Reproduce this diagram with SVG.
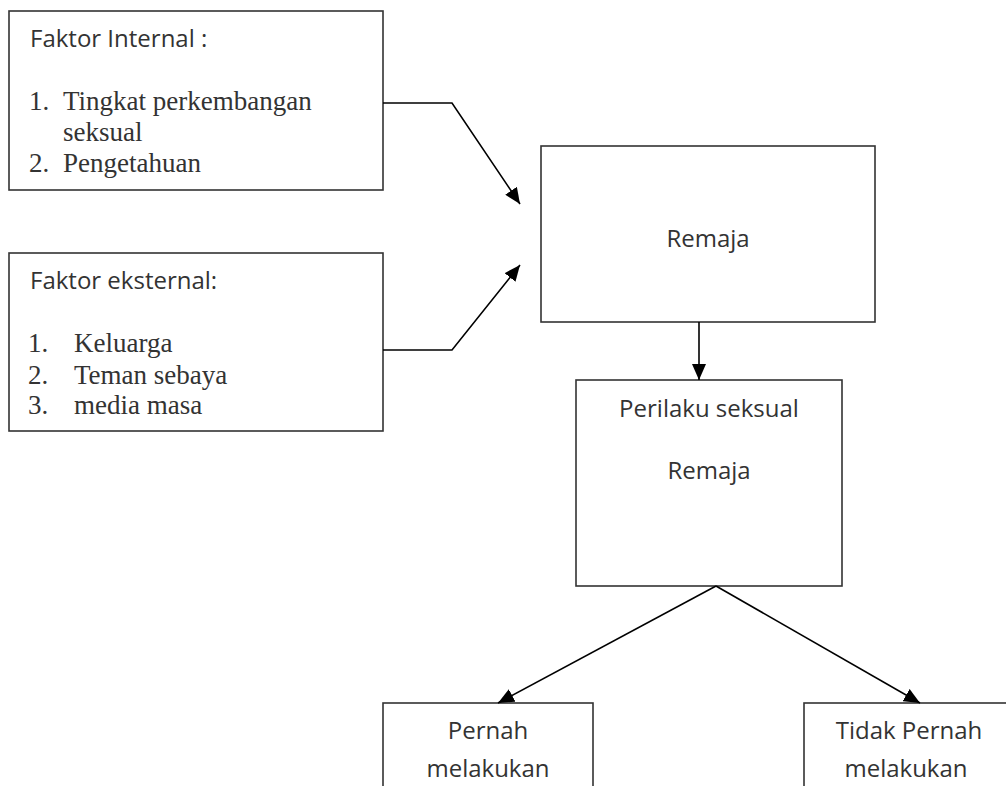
<svg xmlns="http://www.w3.org/2000/svg" width="1006" height="786" viewBox="0 0 1006 786">
<style>
.box{fill:#fff;stroke:#333;stroke-width:1.6}
.sans{font-family:"Open Sans","Noto Sans",sans-serif;font-size:24px;fill:#333}
.serif{font-family:"Liberation Serif","Times New Roman",serif;font-size:27px;fill:#333}
.mid{text-anchor:middle}
.conn{fill:none;stroke:#000;stroke-width:1.6}
</style>
<defs>
<marker id="arr" viewBox="0 0 10 10" refX="10" refY="5" markerWidth="10" markerHeight="10" markerUnits="userSpaceOnUse" orient="auto">
<path d="M0,0 L10,5 L0,10 z" fill="#000"/>
</marker>
<marker id="arrL" viewBox="0 0 16 14" refX="16" refY="7" markerWidth="16" markerHeight="14" markerUnits="userSpaceOnUse" orient="auto">
<path d="M0,0 L16,7 L0,14 z" fill="#000"/>
</marker>
</defs>
<rect width="1006" height="786" fill="#fff"/>
<g id="internal">
<rect class="box" x="9" y="11" width="374" height="179"/>
<text class="sans" x="30" y="47">Faktor Internal :</text>
<text class="serif" x="29" y="110">1.</text>
<text class="serif" x="63" y="110">Tingkat perkembangan</text>
<text class="serif" x="63" y="141">seksual</text>
<text class="serif" x="29" y="172">2.</text>
<text class="serif" x="63" y="172">Pengetahuan</text>
</g>
<g id="eksternal">
<rect class="box" x="9" y="253" width="374" height="178"/>
<text class="sans" x="30" y="289">Faktor eksternal:</text>
<text class="serif" x="28" y="352">1.</text>
<text class="serif" x="74" y="352">Keluarga</text>
<text class="serif" x="28" y="384">2.</text>
<text class="serif" x="74" y="384">Teman sebaya</text>
<text class="serif" x="28" y="414">3.</text>
<text class="serif" x="74" y="414">media masa</text>
</g>
<g id="remaja">
<rect class="box" x="541" y="146" width="334" height="176"/>
<text class="sans mid" x="708" y="247">Remaja</text>
</g>
<g id="perilaku">
<rect class="box" x="576" y="380" width="266" height="206"/>
<text class="sans mid" x="709" y="417">Perilaku seksual</text>
<text class="sans mid" x="709" y="479">Remaja</text>
</g>
<g id="pernah">
<rect class="box" x="383" y="703" width="210" height="90"/>
<text class="sans mid" x="488" y="739">Pernah</text>
<text class="sans mid" x="488" y="777">melakukan</text>
</g>
<g id="tidak">
<rect class="box" x="804" y="703" width="210" height="90"/>
<text class="sans mid" x="909" y="739">Tidak Pernah</text>
<text class="sans mid" x="906" y="777">melakukan</text>
</g>
<g id="connectors">
<path class="conn" d="M383,103 H452 L520,204" marker-end="url(#arrL)"/>
<path class="conn" d="M383,350 H452 L520,265" marker-end="url(#arrL)"/>
<path class="conn" d="M699,322 V380" marker-end="url(#arrL)"/>
<path class="conn" d="M716,586 L498,703" marker-end="url(#arrL)"/>
<path class="conn" d="M716,586 L920,703" marker-end="url(#arrL)"/>
</g>
</svg>
